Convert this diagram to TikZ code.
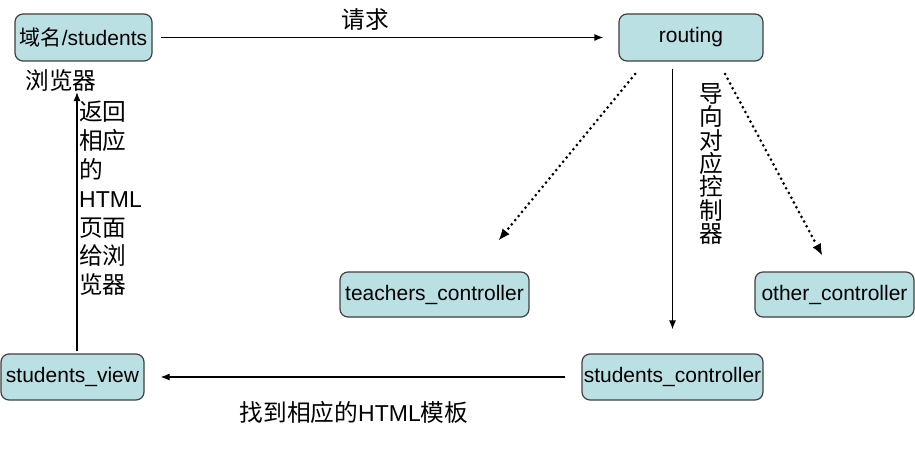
\documentclass[tikz,border=0pt]{standalone}
\usepackage{fontspec}
\setmainfont{Liberation Sans}
\newfontfamily\cjk[Scale=1.03]{Noto Sans CJK SC}
\newfontfamily\cjkbox{Noto Sans CJK SC}
\usetikzlibrary{arrows.meta}
\definecolor{boxfill}{HTML}{BBE0E3}
\definecolor{boxline}{HTML}{404040}
\tikzset{
  box/.style={draw=boxline, fill=boxfill, rounded corners=8pt, line width=1.2pt, inner sep=0pt,
    font=\fontsize{21}{24}\selectfont},
  arr/.style={line width=1.1pt, -{Latex[length=9pt,width=7pt]}},
  dotarr/.style={line width=3pt, line cap=round, dash pattern=on 0pt off 5.4pt,
    -{Latex[length=11pt,width=9pt,line width=0pt]}},
  lbl/.style={inner sep=0pt, font=\fontsize{23}{26}\selectfont}
}
\begin{document}
\begin{tikzpicture}[x=1pt,y=-1pt]
\useasboundingbox (0,0) rectangle (915,460);
\node[box, minimum width=137pt, minimum height=47pt] (domain) at (83.5,37.5) {{\cjkbox 域名}/students};
\node[box, minimum width=144pt, minimum height=47pt] (routing) at (691,37.5) {routing};
\node[box, minimum width=189pt, minimum height=45pt] (teach) at (434.5,294.5) {teachers\_controller};
\node[box, minimum width=159pt, minimum height=45pt] (other) at (834.5,294.5) {other\_controller};
\node[box, minimum width=181pt, minimum height=46pt] (sc) at (672.5,377) {students\_controller};
\node[box, minimum width=143pt, minimum height=46pt] (sview) at (72.5,377) {students\_view};

\node[lbl] (req) at (365,20) {\cjk 请求};
\node[lbl] (browser) at (61,81) {\cjk 浏览器};
\node[lbl] (find) at (354,412) {{\cjk 找到相应的}HTML{\cjk 模板}};
\node[lbl, anchor=west, align=left, font=\fontsize{23}{28.8}\selectfont] (ret) at (79,198.5)
  {{\cjk 返回}\\{\cjk 相应}\\{\cjk 的}\\HTML\\{\cjk 页面}\\{\cjk 给浏}\\{\cjk 览器}};
\node[lbl, align=center, font=\fontsize{23}{23.4}\selectfont\cjk] (guide) at (711,164)
  {导\\向\\对\\应\\控\\制\\器};

\draw[arr, shorten <=8pt, shorten >=15pt] (domain) -- (routing);
\draw[arr, shorten <=16pt, shorten >=16pt] (sc) -- (sview);
\draw[arr, shorten <=2pt] ([xshift=4.5pt]sview.north) -- ([xshift=4.5pt]sview.north |- browser.south);
\draw[arr, shorten <=7pt, shorten >=24pt] (sc.north |- routing.south) -- (sc.north);

\coordinate (d1s) at (635,74);
\coordinate (d1e) at (499,240);
\coordinate (d2s) at (725,74);
\coordinate (d2e) at (822,255);
\draw[dotarr] (d1s) -- (d1e);
\draw[dotarr] (d2s) -- (d2e);
\end{tikzpicture}
\end{document}
